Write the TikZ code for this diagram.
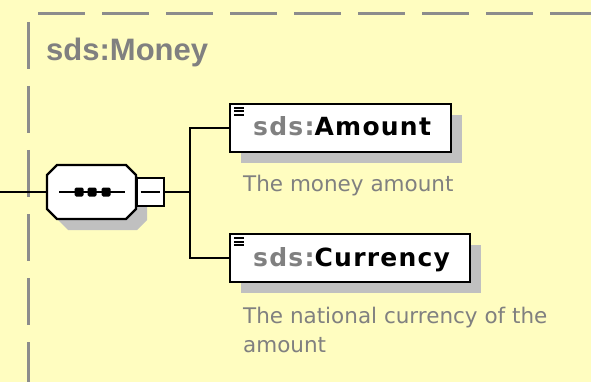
\documentclass[tikz,border=0pt]{standalone}
\usepackage{xcolor}
\usepackage{fontspec}
\usepackage{tikz}
\usetikzlibrary{positioning, calc, shadows}

\newfontfamily\titlefamily{Liberation Sans}
\newfontfamily\namefamily{DejaVu Sans}[LetterSpace=5]
\newfontfamily\docfamily{DejaVu Sans}

\definecolor{bgyellow}{RGB}{255,253,192}
\definecolor{framegray}{RGB}{140,140,140}
\definecolor{shadowgray}{RGB}{192,192,192}
\definecolor{textgray}{RGB}{128,128,128}

\tikzset{
	frameline/.style={draw=framegray, line width=3pt, dash pattern=on 47pt off 17pt},
	wire/.style={draw=black, line width=2.4pt},
	elembox/.style={draw=black, line width=2.4pt, fill=white, anchor=north west,
		minimum height=48pt, inner sep=0pt,
		drop shadow={shadow xshift=11pt, shadow yshift=-11pt, fill=shadowgray, opacity=1}},
	elemname/.style={anchor=base west, inner sep=0pt, font=\namefamily\bfseries\fontsize{25}{28}\selectfont},
	elemdoc/.style={anchor=base west, inner sep=0pt, text=textgray, align=left,
		font=\docfamily\fontsize{21.5}{29}\selectfont},
	foldbox/.style={draw=black, line width=2pt, fill=white, minimum size=27pt, inner sep=0pt},
}

\begin{document}
\begin{tikzpicture}[x=1pt, y=-1pt]
	
	%//origin at top left, one unit per pixel
	\useasboundingbox[fill=bgyellow] (0,0) rectangle (591,382);
	
	%//dashed frame of the complex type
	\draw[frameline] (38,14) -- (591,14);
	\draw[frameline] (28,22) -- (28,382);
	\node[anchor=base west, inner sep=0pt, text=textgray,
		font=\titlefamily\bfseries\fontsize{31}{34}\selectfont] (title) at (46,61) {sds:Money};
	
	%//sequence compositor
	\coordinate (inlet) at (0,192);
	\node[minimum width=89pt, minimum height=54pt, inner sep=0pt] (seq) at (91.5,192) {};
	\fill[shadowgray, shift={(11,11)}] (57,165) -- (126,165) -- (136,175) -- (136,209)
		-- (126,219) -- (57,219) -- (47,209) -- (47,175) -- cycle;
	\draw[wire, fill=white] (57,165) -- (126,165) -- (136,175) -- (136,209)
		-- (126,219) -- (57,219) -- (47,209) -- (47,175) -- cycle;
	\draw[wire] (59,192) -- (125,192);
	\foreach \x in {79,92,106}
	\fill[rounded corners=1.5pt] (\x-4.5,187.5) rectangle (\x+4.5,196.5);
	
	\node[foldbox] (fold) at (150,192) {};
	\draw[line width=2pt] ($(fold.west)+(5,0)$) -- ($(fold.east)+(-5,0)$);
	
	%//child elements
	\node[elembox, minimum width=221pt] (amount) at (229,103) {};
	\node[elembox, minimum width=240pt] (currency) at (229,233) {};
	
	\foreach \e in {amount,currency}
	\foreach \d in {0,3.5,7}
	\draw[line width=2pt] ($(\e.north west)+(5,5+\d)$) -- ++(10,0);
	
	\node[elemname] (amountname) at (253,136) {\textcolor{textgray}{sds:}Amount};
	\node[elemname] (currencyname) at (253,266) {\textcolor{textgray}{sds:}Currency};
	
	\node[elemdoc] (amountdoc) at (243,191) {The money amount};
	\node[elemdoc] (currencydoc) at (243,352) {The national currency of the\\amount};
	
	%//connectors
	\coordinate (fork) at (190,192);
	\draw[wire] (inlet) -- (seq.west);
	\draw[wire] (fold.east) -- (fork);
	\draw[wire] (fork) |- (amount.west);
	\draw[wire] (fork) |- (currency.west);
	
\end{tikzpicture}
\end{document}
